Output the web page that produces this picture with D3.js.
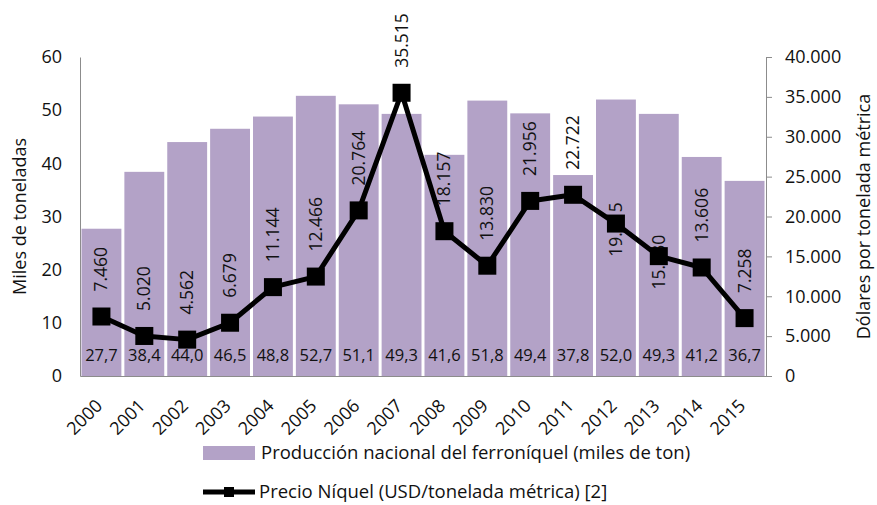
<!DOCTYPE html>
<html>
<head>
<meta charset="utf-8">
<script src="https://cdn.jsdelivr.net/npm/d3@7"></script>
<style>
  body { margin: 0; background: #fff; }
  svg { display: block; font-family: "Open Sans", sans-serif; }
</style>
</head>
<body>
<div id="svg-div"></div>
<script>
const years = ['2000', '2001', '2002', '2003', '2004', '2005', '2006', '2007',
               '2008', '2009', '2010', '2011', '2012', '2013', '2014', '2015'];
const production = [27.7, 38.4, 44.0, 46.5, 48.8, 52.7, 51.1, 49.3,
                    41.6, 51.8, 49.4, 37.8, 52.0, 49.3, 41.2, 36.7];
const nickelPrice = [7460, 5020, 4562, 6679, 11144, 12466, 20764, 35515,
                     18157, 13830, 21956, 22722, 19115, 15030, 13606, 7258];
const leftTicks = [0, 10, 20, 30, 40, 50, 60];
const rightTicks = [0, 5000, 10000, 15000, 20000, 25000, 30000, 35000, 40000];
// price labels that Excel put on the marker instead of above it
const centeredLabels = ['2012', '2013'];

const barName = 'Producción nacional del ferroníquel (miles de ton)';
const lineName = 'Precio Níquel (USD/tonelada métrica) [2]';

const locale = d3.formatLocale({decimal: ',', thousands: '.', grouping: [3], currency: ['', '']});
const fmtPrice = locale.format(',.0f');
const fmtProd = locale.format(',.1f');

const width = 877;
const height = 505;
const plotLeft = 80, plotRight = 766, plotTop = 57, plotBottom = 376;
const barColour = '#b3a2c7';
const axisColour = '#8c8c8c';

const data = years.map((y, i) => ({year: y, prod: production[i], price: nickelPrice[i]}));

const xScale = d3.scaleBand()
                 .domain(years)
                 .range([plotLeft, plotRight])
                 .paddingInner(0.07)
                 .paddingOuter(0.035);

const yLeft = d3.scaleLinear().domain([0, 60]).range([plotBottom, plotTop]);
const yRight = d3.scaleLinear().domain([0, 40000]).range([plotBottom, plotTop]);

const svg = d3.select('#svg-div')
              .append('svg')
                .attr('width', width)
                .attr('height', height);

// bars
svg.append('g')
   .selectAll('rect')
   .data(data)
   .enter()
     .append('rect')
       .attr('x', d => xScale(d.year))
       .attr('y', d => yLeft(d.prod))
       .attr('width', xScale.bandwidth())
       .attr('height', d => plotBottom - yLeft(d.prod))
       .attr('fill', barColour);

// bar labels at the base
svg.append('g')
   .selectAll('text')
   .data(data)
   .enter()
     .append('text')
       .attr('x', d => xScale(d.year) + xScale.bandwidth() / 2)
       .attr('y', yLeft(0) - 15)
       .attr('text-anchor', 'middle')
       .attr('font-size', 16.5)
       .attr('fill', '#111')
       .text(d => fmtProd(d.prod));

// axes
svg.append('g')
   .attr('transform', `translate(${plotLeft}, 0)`)
   .call(d3.axisLeft(yLeft).tickValues(leftTicks).tickSize(0).tickPadding(18))
   .call(g => g.select('.domain').attr('stroke', axisColour))
   .call(g => g.selectAll('text').attr('font-size', 18).attr('fill', '#111').attr('font-family', '"Open Sans", sans-serif'));

svg.append('g')
   .attr('transform', `translate(${plotRight}, 0)`)
   .call(d3.axisRight(yRight).tickValues(rightTicks).tickSize(6).tickPadding(13).tickFormat(fmtPrice).tickSizeOuter(0))
   .call(g => g.select('.domain').attr('stroke', axisColour))
   .call(g => g.selectAll('line').attr('stroke', axisColour))
   .call(g => g.selectAll('text').attr('font-size', 18).attr('fill', '#111').attr('font-family', '"Open Sans", sans-serif'));

svg.append('g')
   .attr('transform', `translate(0, ${plotBottom})`)
   .call(d3.axisBottom(xScale).tickSize(0).tickSizeOuter(0).tickPadding(0))
   .call(g => g.select('.domain').attr('stroke', axisColour))
   .call(g => g.selectAll('text')
               .attr('font-size', 18)
               .attr('fill', '#111')
               .attr('font-family', '"Open Sans", sans-serif')
               .attr('text-anchor', 'end')
               .attr('dy', null)
               .attr('transform', 'translate(2, 31) rotate(-45)'));

// axis titles
svg.append('text')
   .attr('transform', `translate(26, ${(plotTop + plotBottom) / 2}) rotate(-90)`)
   .attr('text-anchor', 'middle')
   .attr('font-size', 18)
   .attr('fill', '#111')
   .text('Miles de toneladas');

svg.append('text')
   .attr('transform', `translate(865, ${(plotTop + plotBottom) / 2}) rotate(-90)`)
   .attr('text-anchor', 'middle')
   .attr('dominant-baseline', 'middle')
   .attr('font-size', 18)
   .attr('fill', '#111')
   .text('Dólares por tonelada métrica');

// price labels (drawn under the line)
const cx = d => xScale(d.year) + xScale.bandwidth() / 2;
svg.append('g')
   .selectAll('text')
   .data(data)
   .enter()
     .append('text')
       .attr('transform', d => {
           const centered = centeredLabels.includes(d.year);
           const y = centered ? yRight(d.price) + 6 : yRight(d.price) - 25;
           return `translate(${cx(d) + 6}, ${y}) rotate(-90)`;
       })
       .attr('text-anchor', d => centeredLabels.includes(d.year) ? 'middle' : 'start')
       .attr('font-size', 17.5)
       .attr('fill', '#111')
       .text(d => fmtPrice(d.price));

// price line and markers
const line = d3.line()
               .x(d => cx(d))
               .y(d => yRight(d.price));

svg.append('path')
   .datum(data)
   .attr('d', line)
   .attr('fill', 'none')
   .attr('stroke', '#000')
   .attr('stroke-width', 5)
   .attr('stroke-linejoin', 'round');

const ms = 18;
svg.append('g')
   .selectAll('rect')
   .data(data)
   .enter()
     .append('rect')
       .attr('x', d => cx(d) - ms / 2)
       .attr('y', d => yRight(d.price) - ms / 2)
       .attr('width', ms)
       .attr('height', ms)
       .attr('fill', '#000');

// legend
const legend = svg.append('g');
legend.append('rect')
      .attr('x', 203)
      .attr('y', 446)
      .attr('width', 52)
      .attr('height', 14)
      .attr('fill', barColour);
legend.append('text')
      .attr('x', 261)
      .attr('y', 459)
      .attr('font-size', 18.5)
      .attr('fill', '#111')
      .text(barName);

legend.append('line')
      .attr('x1', 203)
      .attr('x2', 255)
      .attr('y1', 492)
      .attr('y2', 492)
      .attr('stroke', '#000')
      .attr('stroke-width', 5);
legend.append('rect')
      .attr('x', 224)
      .attr('y', 487)
      .attr('width', 10)
      .attr('height', 10)
      .attr('fill', '#000');
legend.append('text')
      .attr('x', 259)
      .attr('y', 498)
      .attr('font-size', 18.5)
      .attr('fill', '#111')
      .text(lineName);
</script>
</body>
</html>
